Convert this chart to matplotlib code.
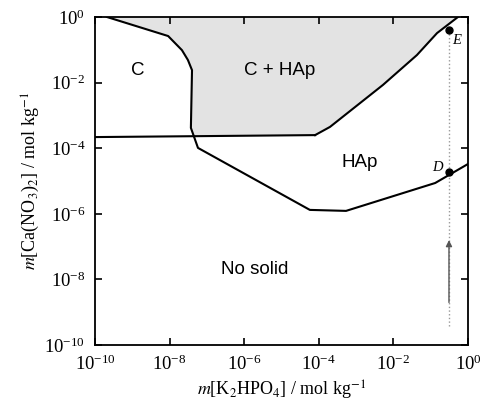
import numpy as np
import matplotlib
matplotlib.use('Agg')
import matplotlib.pyplot as plt

plt.rcParams['font.family'] = ['Liberation Serif', 'DejaVu Serif']
plt.rcParams['mathtext.fontset'] = 'stix'

# boundaries, log10 values
c_x = [-9.68, -8.04, -7.67, -7.51, -7.40, -7.43, -7.24, -4.24, -3.27, -0.88, 0.0]
c_y = [0.0, -0.58, -1.01, -1.31, -1.62, -3.38, -3.99, -5.88, -5.91, -5.06, -4.48]
h_x = [-10.0, -4.10]
h_y = [-3.66, -3.60]
up_x = [-4.10, -3.70, -2.28, -1.37, -0.83, -0.27]
up_y = [-3.60, -3.35, -2.07, -1.16, -0.49, 0.0]
pt_x = -0.51
e_y = -0.40
d_y = -4.73

fig = plt.figure(figsize=(4.8, 4.05), dpi=100)
ax = fig.add_axes([0.198, 0.148, 0.777, 0.81])

# grey C + HAp region
hy = np.interp(-7.43, h_x, h_y)
cross_x = np.interp(hy, [c_y[6], c_y[5]], [c_x[6], c_x[5]])
px = c_x[:6] + [cross_x] + up_x
py = c_y[:6] + [hy] + up_y
ax.fill(10**np.array(px), 10**np.array(py), color='#e3e3e3', lw=0, zorder=1)

ax.plot(10**np.array(c_x), 10**np.array(c_y), color='black', lw=1.5, zorder=3)
ax.plot(10**np.array(h_x), 10**np.array(h_y), color='black', lw=1.5, zorder=3)
ax.plot(10**np.array(up_x), 10**np.array(up_y), color='black', lw=1.5, zorder=3)

# dotted path and arrow
ax.plot([10**pt_x, 10**pt_x], [10**-9.42, 10**e_y], ls=':', color='#999999', lw=1.0, zorder=2)
ax.annotate('', xy=(10**pt_x, 10**-6.8), xytext=(10**pt_x, 10**-8.7),
            arrowprops=dict(arrowstyle='-|>', color='#555555', lw=1.0,
                            mutation_scale=9, shrinkA=0, shrinkB=0), zorder=2)
ax.plot([10**pt_x, 10**pt_x], [10**e_y, 10**d_y], 'o', color='black', ms=5, zorder=4)

sans = ['Liberation Sans', 'DejaVu Sans']
ax.text(10**-8.85, 10**-1.62, 'C', family=sans, fontsize=13.5, ha='center', va='center')
ax.text(10**-5.04, 10**-1.62, 'C + HAp', family=sans, fontsize=13.5, ha='center', va='center')
ax.text(10**-2.90, 10**-4.45, 'HAp', family=sans, fontsize=13.5, ha='center', va='center')
ax.text(10**-5.71, 10**-7.71, 'No solid', family=sans, fontsize=13.5, ha='center', va='center')
ax.text(10**-0.30, 10**-0.73, 'E', fontsize=10.5, style='italic', ha='center', va='center')
ax.text(10**-0.83, 10**-4.60, 'D', fontsize=10.5, style='italic', ha='center', va='center')

ax.set_xscale('log')
ax.set_yscale('log')
ax.set_xlim(1e-10, 1)
ax.set_ylim(1e-10, 1)
ticks = [10.0**k for k in range(-10, 1, 2)]
ax.set_xticks(ticks)
ax.set_yticks(ticks)
ax.minorticks_off()
ax.tick_params(direction='in', length=5, width=1.2, top=True, right=True,
               labelsize=13.5, pad=7)
for s in ax.spines.values():
    s.set_linewidth(1.3)

ax.set_xlabel('$m$[K$_2$HPO$_4$] / mol kg$^{-1}$', fontsize=13, labelpad=3)
ax.set_ylabel('$m$[Ca(NO$_3$)$_2$] / mol kg$^{-1}$', fontsize=13, labelpad=2)

fig.savefig('out.png', dpi=100)
